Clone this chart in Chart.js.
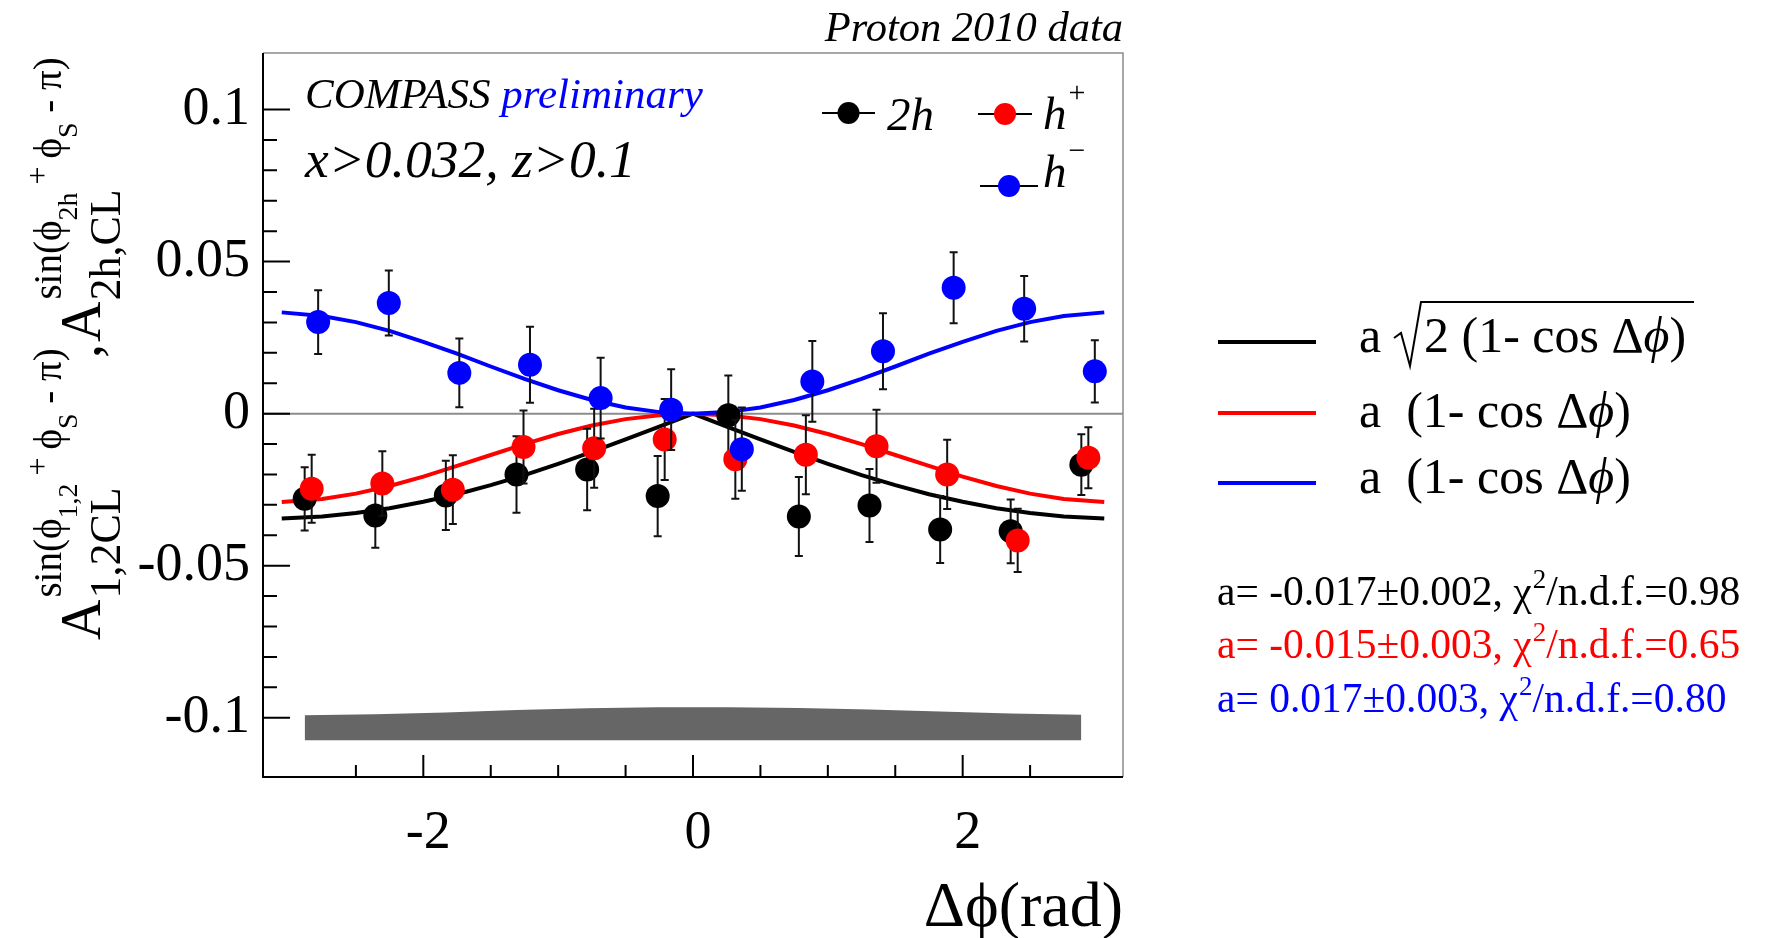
<!DOCTYPE html>
<html>
<head>
<meta charset="utf-8">
<title>COMPASS proton 2010 - azimuthal asymmetry vs delta phi</title>
<script src="https://cdn.jsdelivr.net/npm/chart.js@4.4.0/dist/chart.umd.min.js"></script>
<style>
  html, body { margin: 0; padding: 0; background: #fff; }
</style>
</head>
<body>
<canvas id="asym" width="1783" height="938"></canvas>
<script>
// delta phi bin centres (rad); h+ and h- are plotted slightly shifted, like the original
var phi2h  = [-2.880, -2.356, -1.833, -1.309, -0.785, -0.262, 0.262, 0.785, 1.309, 1.833, 2.356, 2.880];
var phiPos = [-2.828, -2.304, -1.781, -1.257, -0.733, -0.210, 0.314, 0.837, 1.361, 1.885, 2.408, 2.932];
var phiNeg = [-2.780, -2.256, -1.733, -1.209, -0.685, -0.162, 0.362, 0.885, 1.409, 1.933, 2.456, 2.980];

var asym2h  = [-0.0280, -0.0335, -0.0269, -0.0200, -0.0184, -0.0271, -0.0005, -0.0338, -0.0302, -0.0381, -0.0387, -0.0168];
var err2h   = [0.0104, 0.0106, 0.0114, 0.0126, 0.0134, 0.0132, 0.0130, 0.0130, 0.0120, 0.0110, 0.0105, 0.0100];
var asymPos = [-0.0247, -0.0230, -0.0250, -0.0110, -0.0114, -0.0085, -0.0150, -0.0135, -0.0107, -0.0200, -0.0417, -0.0145];
var errPos  = [0.0112, 0.0106, 0.0113, 0.0120, 0.0130, 0.0133, 0.0130, 0.0130, 0.0120, 0.0114, 0.0104, 0.0100];
var asymNeg = [0.0301, 0.0364, 0.0134, 0.0161, 0.0051, 0.0013, -0.0117, 0.0106, 0.0205, 0.0414, 0.0345, 0.0139];
var errNeg  = [0.0105, 0.0107, 0.0113, 0.0125, 0.0133, 0.0133, 0.0137, 0.0133, 0.0125, 0.0117, 0.0108, 0.0102];

// fit curves
var fitPhi = [-3.05, -2.75, -2.5, -2.25, -2, -1.75, -1.5, -1.25, -1, -0.75, -0.5, -0.25, 0,
              0.25, 0.5, 0.75, 1, 1.25, 1.5, 1.75, 2, 2.25, 2.5, 2.75, 3.05];
var fit2h  = [-0.0345, -0.0338, -0.0327, -0.0311, -0.0290, -0.0265, -0.0235, -0.0202, -0.0165, -0.0126, -0.0085, -0.0043, 0,
              -0.0043, -0.0085, -0.0126, -0.0165, -0.0202, -0.0235, -0.0265, -0.0290, -0.0311, -0.0327, -0.0338, -0.0345];
var fitPos = [-0.0291, -0.0281, -0.0263, -0.0238, -0.0207, -0.0172, -0.0136, -0.0100, -0.0067, -0.0039, -0.0018, -0.0005, 0,
              -0.0005, -0.0018, -0.0039, -0.0067, -0.0100, -0.0136, -0.0172, -0.0207, -0.0238, -0.0263, -0.0281, -0.0291];
var fitNeg = [0.0333, 0.0321, 0.0301, 0.0272, 0.0236, 0.0197, 0.0155, 0.0114, 0.0077, 0.0045, 0.0020, 0.0005, 0,
              0.0005, 0.0020, 0.0045, 0.0077, 0.0114, 0.0155, 0.0197, 0.0236, 0.0272, 0.0301, 0.0321, 0.0333];

// systematic band (upper edge per bin, common lower edge)
var sysTop  = [-0.0992, -0.0989, -0.0983, -0.0975, -0.0969, -0.0966, -0.0966, -0.0968, -0.0973, -0.0980, -0.0986, -0.0990];
var sysBase = -0.1074;

var yTickValues = [-0.1, -0.05, 0, 0.05, 0.1];
var yTickLabels = ['-0.1', '-0.05', '0', '0.05', '0.1'];
var xTickValues = [-2, 0, 2];
var xTickLabels = ['-2', '0', '2'];

var SERIF = "'Liberation Serif', 'Times New Roman', serif";
var PHI = '\u03d5';

function pts(xs, ys) {
    return xs.map(function (x, i) { return { x: x, y: ys[i] }; });
}

function labelFor(v, vals, labels) {
    for (var i = 0; i < vals.length; i++) {
        if (Math.abs(v - vals[i]) < 1e-6) return labels[i];
    }
    return '';
}

function onStep(step) {
    return function (scale) {
        scale.ticks = scale.ticks.filter(function (t) {
            var q = t.value / step;
            return Math.abs(q - Math.round(q)) < 1e-6;
        });
    };
}

// draws text pieces one after the other along the current x direction
function drawRuns(ctx, x, y, runs) {
    runs.forEach(function (r) {
        ctx.font = r.f;
        ctx.fillStyle = r.c || '#000';
        ctx.fillText(r.t, x, y + (r.dy || 0));
        x += ctx.measureText(r.t).width;
    });
    return x;
}

var errorBars = {
    id: 'errorBars',
    beforeDatasetDraw: function (chart, args) {
        var ds = chart.data.datasets[args.index];
        if (!ds.errors) return;
        var ctx = chart.ctx, xs = chart.scales.x, ys = chart.scales.y;
        ctx.save();
        ctx.strokeStyle = '#111';
        ctx.lineWidth = 2;
        ds.data.forEach(function (p, i) {
            var px = xs.getPixelForValue(p.x);
            var top = ys.getPixelForValue(p.y + ds.errors[i]);
            var bot = ys.getPixelForValue(p.y - ds.errors[i]);
            ctx.beginPath();
            ctx.moveTo(px, top); ctx.lineTo(px, bot);
            ctx.moveTo(px - 4, top); ctx.lineTo(px + 4, top);
            ctx.moveTo(px - 4, bot); ctx.lineTo(px + 4, bot);
            ctx.stroke();
        });
        ctx.restore();
    }
};

var frame = {
    id: 'frame',
    beforeDatasetsDraw: function (chart) {
        var ctx = chart.ctx, ca = chart.chartArea, y0 = chart.scales.y.getPixelForValue(0);
        ctx.save();
        ctx.strokeStyle = '#8c8c8c';
        ctx.lineWidth = 2;
        ctx.beginPath();
        ctx.moveTo(ca.left, y0); ctx.lineTo(ca.right, y0);
        ctx.stroke();
        ctx.restore();
    },
    afterDatasetsDraw: function (chart) {
        var ctx = chart.ctx, ca = chart.chartArea, xs = chart.scales.x, ys = chart.scales.y;
        ctx.save();
        ctx.lineWidth = 1.5;
        ctx.strokeStyle = '#8c8c8c';
        ctx.beginPath();
        ctx.moveTo(ca.left, ca.top); ctx.lineTo(ca.right, ca.top); ctx.lineTo(ca.right, ca.bottom);
        ctx.stroke();

        ctx.strokeStyle = '#000';
        ctx.lineWidth = 2;
        ctx.beginPath();
        ctx.moveTo(ca.left, ca.top); ctx.lineTo(ca.left, ca.bottom); ctx.lineTo(ca.right, ca.bottom);
        ys.ticks.forEach(function (t) {
            var py = ys.getPixelForValue(t.value);
            var len = labelFor(t.value, yTickValues, yTickLabels) !== '' ? 27 : 14;
            ctx.moveTo(ca.left, py); ctx.lineTo(ca.left + len, py);
        });
        xs.ticks.forEach(function (t) {
            var px = xs.getPixelForValue(t.value);
            var len = labelFor(t.value, xTickValues, xTickLabels) !== '' ? 22 : 12;
            ctx.moveTo(px, ca.bottom); ctx.lineTo(px, ca.bottom - len);
        });
        ctx.stroke();
        ctx.restore();
    }
};

var texts = {
    id: 'texts',
    afterDraw: function (chart) {
        var ctx = chart.ctx, ca = chart.chartArea;
        ctx.save();
        ctx.textBaseline = 'alphabetic';

        ctx.textAlign = 'right';
        ctx.font = 'italic 42.5px ' + SERIF;
        ctx.fillStyle = '#000';
        ctx.fillText('Proton 2010 data', ca.right, 41);

        ctx.font = '64px ' + SERIF;
        ctx.fillText('\u0394' + PHI + '(rad)', ca.right, 926);

        ctx.textAlign = 'left';
        drawRuns(ctx, 305, 108, [
            { t: 'COMPASS ', f: 'italic 43px ' + SERIF },
            { t: 'preliminary', f: 'italic 43px ' + SERIF, c: '#0000ff' }
        ]);
        drawRuns(ctx, 305, 177, [{ t: 'x>0.032, z>0.1', f: 'italic 53.5px ' + SERIF }]);

        // in-frame legend for the data samples
        var keys = [
            { x1: 822, x2: 875, y: 113, c: '#000000', tx: 887, ty: 130, name: '2h', sup: '' },
            { x1: 978, x2: 1032, y: 114, c: '#ff0000', tx: 1043, ty: 129, name: 'h', sup: '+' },
            { x1: 980, x2: 1038, y: 186, c: '#0000ff', tx: 1043, ty: 187, name: 'h', sup: '\u2212' }
        ];
        keys.forEach(function (k) {
            ctx.strokeStyle = '#000';
            ctx.lineWidth = 2;
            ctx.beginPath();
            ctx.moveTo(k.x1, k.y); ctx.lineTo(k.x2, k.y);
            ctx.stroke();
            ctx.fillStyle = k.c;
            ctx.beginPath();
            ctx.arc((k.x1 + k.x2) / 2, k.y, 11, 0, Math.PI * 2);
            ctx.fill();
            var e = drawRuns(ctx, k.tx, k.ty, [{ t: k.name, f: 'italic 47px ' + SERIF }]);
            if (k.sup) drawRuns(ctx, e + 2, k.ty - 27, [{ t: k.sup, f: '30px ' + SERIF }]);
        });

        // fit functions legend
        var fits = [
            { y: 342, c: '#000000', ty: 352, sqrt: true },
            { y: 413, c: '#ff0000', ty: 427, sqrt: false },
            { y: 483, c: '#0000ff', ty: 493, sqrt: false }
        ];
        fits.forEach(function (f) {
            ctx.strokeStyle = f.c;
            ctx.lineWidth = 4;
            ctx.beginPath();
            ctx.moveTo(1218, f.y); ctx.lineTo(1316, f.y);
            ctx.stroke();
            var tail = [
                { t: '(1- cos \u0394', f: '50px ' + SERIF },
                { t: PHI, f: 'italic 50px ' + SERIF },
                { t: ')', f: '50px ' + SERIF }
            ];
            if (f.sqrt) {
                drawRuns(ctx, 1359, f.ty, [{ t: 'a', f: '50px ' + SERIF }]);
                ctx.strokeStyle = '#000';
                ctx.lineWidth = 2;
                ctx.beginPath();
                ctx.moveTo(1394, 338); ctx.lineTo(1401, 333); ctx.lineTo(1410, 366);
                ctx.lineTo(1421, 302); ctx.lineTo(1694, 302);
                ctx.stroke();
                drawRuns(ctx, 1424, f.ty, [{ t: '2 ', f: '50px ' + SERIF }].concat(tail));
            } else {
                drawRuns(ctx, 1359, f.ty, [{ t: 'a  ', f: '50px ' + SERIF }].concat(tail));
            }
        });

        var stats = [
            { a: 'a= -0.017\u00b10.002, \u03c7', b: '/n.d.f.=0.98', c: '#000000', y: 605 },
            { a: 'a= -0.015\u00b10.003, \u03c7', b: '/n.d.f.=0.65', c: '#ff0000', y: 658 },
            { a: 'a= 0.017\u00b10.003, \u03c7', b: '/n.d.f.=0.80', c: '#0000ff', y: 712 }
        ];
        stats.forEach(function (s) {
            var e = drawRuns(ctx, 1217, s.y, [{ t: s.a, f: '41.5px ' + SERIF, c: s.c }]);
            var e2 = drawRuns(ctx, e + 1, s.y - 17, [{ t: '2', f: '27px ' + SERIF, c: s.c }]);
            drawRuns(ctx, e2, s.y, [{ t: s.b, f: '41.5px ' + SERIF, c: s.c }]);
        });

        // rotated y title: A_{1,2CL}^{sin(...)} , A_{2h,CL}^{sin(...)}
        function supRuns(idx) {
            return [
                { t: 'sin(' + PHI, f: '39px ' + SERIF },
                { t: idx, f: '28px ' + SERIF, dy: 16 },
                { t: ' + ', f: '32px ' + SERIF, dy: -13 },
                { t: PHI, f: '39px ' + SERIF },
                { t: 'S', f: '28px ' + SERIF, dy: 16 },
                { t: ' - \u03c0)', f: '39px ' + SERIF }
            ];
        }
        ctx.translate(100, 640);
        ctx.rotate(-Math.PI / 2);
        var endA = drawRuns(ctx, 0, 0, [{ t: 'A', f: '56px ' + SERIF }]);
        drawRuns(ctx, endA + 1, 20, [{ t: '1,2CL', f: '44px ' + SERIF }]);
        drawRuns(ctx, endA + 2, -39, supRuns('1,2'));
        drawRuns(ctx, 282, 0, [{ t: ',', f: '56px ' + SERIF }]);
        endA = drawRuns(ctx, 298, 0, [{ t: 'A', f: '56px ' + SERIF }]);
        drawRuns(ctx, endA + 1, 20, [{ t: '2h,CL', f: '44px ' + SERIF }]);
        drawRuns(ctx, endA + 2, -39, supRuns('2h'));
        ctx.restore();
    }
};

var chart = new Chart(document.getElementById('asym').getContext('2d'), {
    type: 'scatter',
    data: {
        datasets: [
            {   // systematic band
                type: 'line', data: pts(phi2h, sysTop), order: 10,
                borderWidth: 0, pointRadius: 0, tension: 0,
                backgroundColor: '#666666', fill: { target: { value: sysBase } }
            },
            { type: 'line', data: pts(fitPhi, fit2h), order: 8, borderColor: '#000000', borderWidth: 4, pointRadius: 0, tension: 0, fill: false },
            { type: 'line', data: pts(fitPhi, fitPos), order: 7, borderColor: '#ff0000', borderWidth: 4, pointRadius: 0, tension: 0, fill: false },
            { type: 'line', data: pts(fitPhi, fitNeg), order: 6, borderColor: '#0000ff', borderWidth: 4, pointRadius: 0, tension: 0, fill: false },
            { label: '2h', data: pts(phi2h, asym2h), errors: err2h, order: 3, pointRadius: 12, pointBorderWidth: 0, backgroundColor: '#000000' },
            { label: 'h+', data: pts(phiPos, asymPos), errors: errPos, order: 2, pointRadius: 12, pointBorderWidth: 0, backgroundColor: '#ff0000' },
            { label: 'h-', data: pts(phiNeg, asymNeg), errors: errNeg, order: 1, pointRadius: 12, pointBorderWidth: 0, backgroundColor: '#0000ff' }
        ]
    },
    options: {
        responsive: false,
        animation: false,
        devicePixelRatio: 1,
        layout: { padding: { left: 0, right: 660, top: 53, bottom: 0 } },
        plugins: { legend: { display: false }, tooltip: { enabled: false } },
        scales: {
            x: {
                type: 'linear', min: -3.189, max: 3.189,
                afterBuildTicks: onStep(0.5),
                afterFit: function (s) { s.height = 161; },
                grid: { display: false, drawTicks: false },
                border: { display: false },
                ticks: {
                    stepSize: 0.5, autoSkip: false, maxRotation: 0, padding: 24, labelOffset: 5,
                    color: '#000', font: { family: SERIF, size: 54 },
                    callback: function (v) { return labelFor(v, xTickValues, xTickLabels); }
                }
            },
            y: {
                type: 'linear', min: -0.1195, max: 0.1186,
                afterBuildTicks: onStep(0.01),
                afterFit: function (s) { s.width = 263; },
                grid: { display: false, drawTicks: false },
                border: { display: false },
                ticks: {
                    stepSize: 0.01, autoSkip: false, padding: 13,
                    color: '#000', font: { family: SERIF, size: 54 },
                    callback: function (v) { return labelFor(v, yTickValues, yTickLabels); }
                }
            }
        }
    },
    plugins: [errorBars, frame, texts]
});
</script>
</body>
</html>
